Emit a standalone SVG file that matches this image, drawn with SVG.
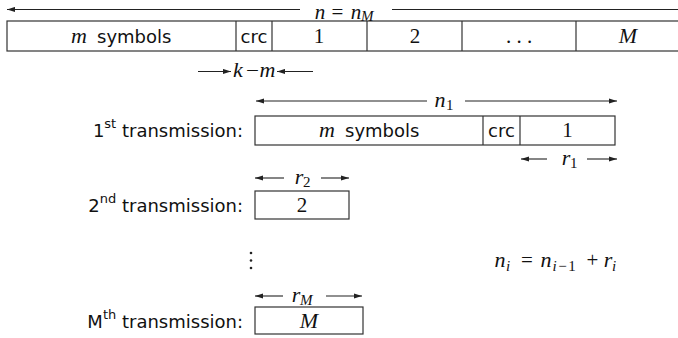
<svg xmlns="http://www.w3.org/2000/svg" width="678" height="338" viewBox="0 0 678 338">
  <defs>
    <marker id="head" viewBox="0 0 8 6" markerWidth="8" markerHeight="6" refX="8" refY="3" orient="auto-start-reverse" markerUnits="userSpaceOnUse">
      <path d="M0,0.4 L8,3 L0,5.6 z" fill="#222"/>
    </marker>
    <style>
      .box { fill: #fff; stroke: #333; stroke-width: 1.2; }
      .div { stroke: #333; stroke-width: 1.2; }
      .arr { stroke: #222; stroke-width: 1.1; fill: none; }
      .sans { font-family: "DejaVu Sans", "Liberation Sans", sans-serif; font-size: 18px; fill: #111; }
      .math { font-family: "Liberation Serif", "DejaVu Serif", serif; font-style: italic; font-size: 22px; fill: #111; text-anchor: middle; }
      .num { font-family: "Liberation Serif", "DejaVu Serif", serif; font-size: 21px; fill: #111; text-anchor: middle; }
      .sub { font-family: "Liberation Serif", "DejaVu Serif", serif; font-style: italic; font-size: 15px; fill: #111; text-anchor: start; }
      .up { font-style: normal; }
      .sup { font-size: 13px; }
    </style>
  </defs>

  <rect width="678" height="338" fill="#fff"/>

  <!-- full codeword: m symbols, crc, parts 1..M -->
  <g id="codeword">
    <rect class="box" x="7" y="21" width="690" height="30"/>
    <line class="div" x1="236" y1="21" x2="236" y2="51"/>
    <line class="div" x1="272" y1="21" x2="272" y2="51"/>
    <line class="div" x1="367" y1="21" x2="367" y2="51"/>
    <line class="div" x1="462" y1="21" x2="462" y2="51"/>
    <line class="div" x1="576" y1="21" x2="576" y2="51"/>
    <text class="math" x="79" y="43">m</text>
    <text class="sans" x="97" y="43">symbols</text>
    <text class="sans" x="254" y="43" text-anchor="middle">crc</text>
    <text class="num" x="319" y="43">1</text>
    <text class="num" x="415" y="43">2</text>
    <text class="num" x="519" y="43">. . .</text>
    <text class="math" x="628" y="43">M</text>
  </g>

  <!-- first transmission -->
  <g id="tx1">
    <text class="sans" x="243" y="137" text-anchor="end">1<tspan class="sup" dy="-9">st</tspan><tspan dy="9"> transmission:</tspan></text>
    <rect class="box" x="255" y="116" width="360" height="29"/>
    <line class="div" x1="483" y1="116" x2="483" y2="145"/>
    <line class="div" x1="520" y1="116" x2="520" y2="145"/>
    <text class="math" x="327" y="137">m</text>
    <text class="sans" x="345" y="137">symbols</text>
    <text class="sans" x="501.5" y="137" text-anchor="middle">crc</text>
    <text class="num" x="567.5" y="137">1</text>
  </g>

  <!-- second transmission -->
  <g id="tx2">
    <text class="sans" x="243" y="212" text-anchor="end">2<tspan class="sup" dy="-9">nd</tspan><tspan dy="9"> transmission:</tspan></text>
    <rect class="box" x="255" y="191" width="94" height="28"/>
    <text class="num" x="302" y="212">2</text>
  </g>

  <!-- vertical ellipsis -->
  <g id="vdots" fill="#222">
    <circle cx="251" cy="253" r="1.3"/>
    <circle cx="251" cy="260.5" r="1.3"/>
    <circle cx="251" cy="268" r="1.3"/>
  </g>

  <!-- M-th transmission -->
  <g id="txM">
    <text class="sans" x="243" y="328" text-anchor="end">M<tspan class="sup" dy="-9">th</tspan><tspan dy="9"> transmission:</tspan></text>
    <rect class="box" x="255" y="307" width="108" height="27"/>
    <text class="math" x="309" y="328">M</text>
  </g>

  <!-- recurrence for the cumulative length -->
  <g id="recurrence">
    <text class="math" x="500" y="267">n</text>
    <text class="sub" x="506" y="271">i</text>
    <text class="num" x="527" y="267">=</text>
    <text class="math" x="546" y="267">n</text>
    <text class="sub" x="552.5" y="271" font-size="16" letter-spacing="1.5">i<tspan class="up">−1</tspan></text>
    <text class="num" x="592.5" y="267">+</text>
    <text class="math" x="608" y="267">r</text>
    <text class="sub" x="612" y="271">i</text>
  </g>

  <!-- length arrows and their labels -->
  <g id="connectors">
    <!-- n = n_M -->
    <line class="arr" x1="300" y1="9.5" x2="7" y2="9.5" marker-end="url(#head)"/>
    <line class="arr" x1="392" y1="9.5" x2="690" y2="9.5"/>
    <text class="num" x="338" y="18.5" font-size="19"><tspan font-style="italic" x="320">n</tspan><tspan x="337.5">=</tspan><tspan font-style="italic" x="356">n</tspan></text>
    <text class="sub" x="361" y="21">M</text>

    <!-- k-m -->
    <line class="arr" x1="198" y1="71.5" x2="231" y2="71.5" marker-end="url(#head)"/>
    <line class="arr" x1="313" y1="71.5" x2="277" y2="71.5" marker-end="url(#head)"/>
    <text class="math" x="238" y="77" font-size="20">k</text>
    <text class="num" x="252.5" y="76" font-size="24">–</text>
    <text class="math" x="267.5" y="77" font-size="20">m</text>

    <!-- n_1 -->
    <line class="arr" x1="427" y1="101" x2="256" y2="101" marker-end="url(#head)"/>
    <line class="arr" x1="465" y1="101" x2="617" y2="101" marker-end="url(#head)"/>
    <text class="math" x="440" y="107">n</text>
    <text class="sub up" x="446" y="110">1</text>

    <!-- r_1 -->
    <line class="arr" x1="547" y1="159" x2="521" y2="159" marker-end="url(#head)"/>
    <line class="arr" x1="587" y1="159" x2="617" y2="159" marker-end="url(#head)"/>
    <text class="math" x="566" y="165">r</text>
    <text class="sub up" x="570" y="168">1</text>

    <!-- r_2 -->
    <line class="arr" x1="284" y1="178" x2="255" y2="178" marker-end="url(#head)"/>
    <line class="arr" x1="321" y1="178" x2="349" y2="178" marker-end="url(#head)"/>
    <text class="math" x="299" y="184">r</text>
    <text class="sub up" x="303" y="187">2</text>

    <!-- r_M -->
    <line class="arr" x1="283" y1="296" x2="255" y2="296" marker-end="url(#head)"/>
    <line class="arr" x1="326" y1="296" x2="362" y2="296" marker-end="url(#head)"/>
    <text class="math" x="296" y="302">r</text>
    <text class="sub" x="300" y="305">M</text>
  </g>
</svg>
